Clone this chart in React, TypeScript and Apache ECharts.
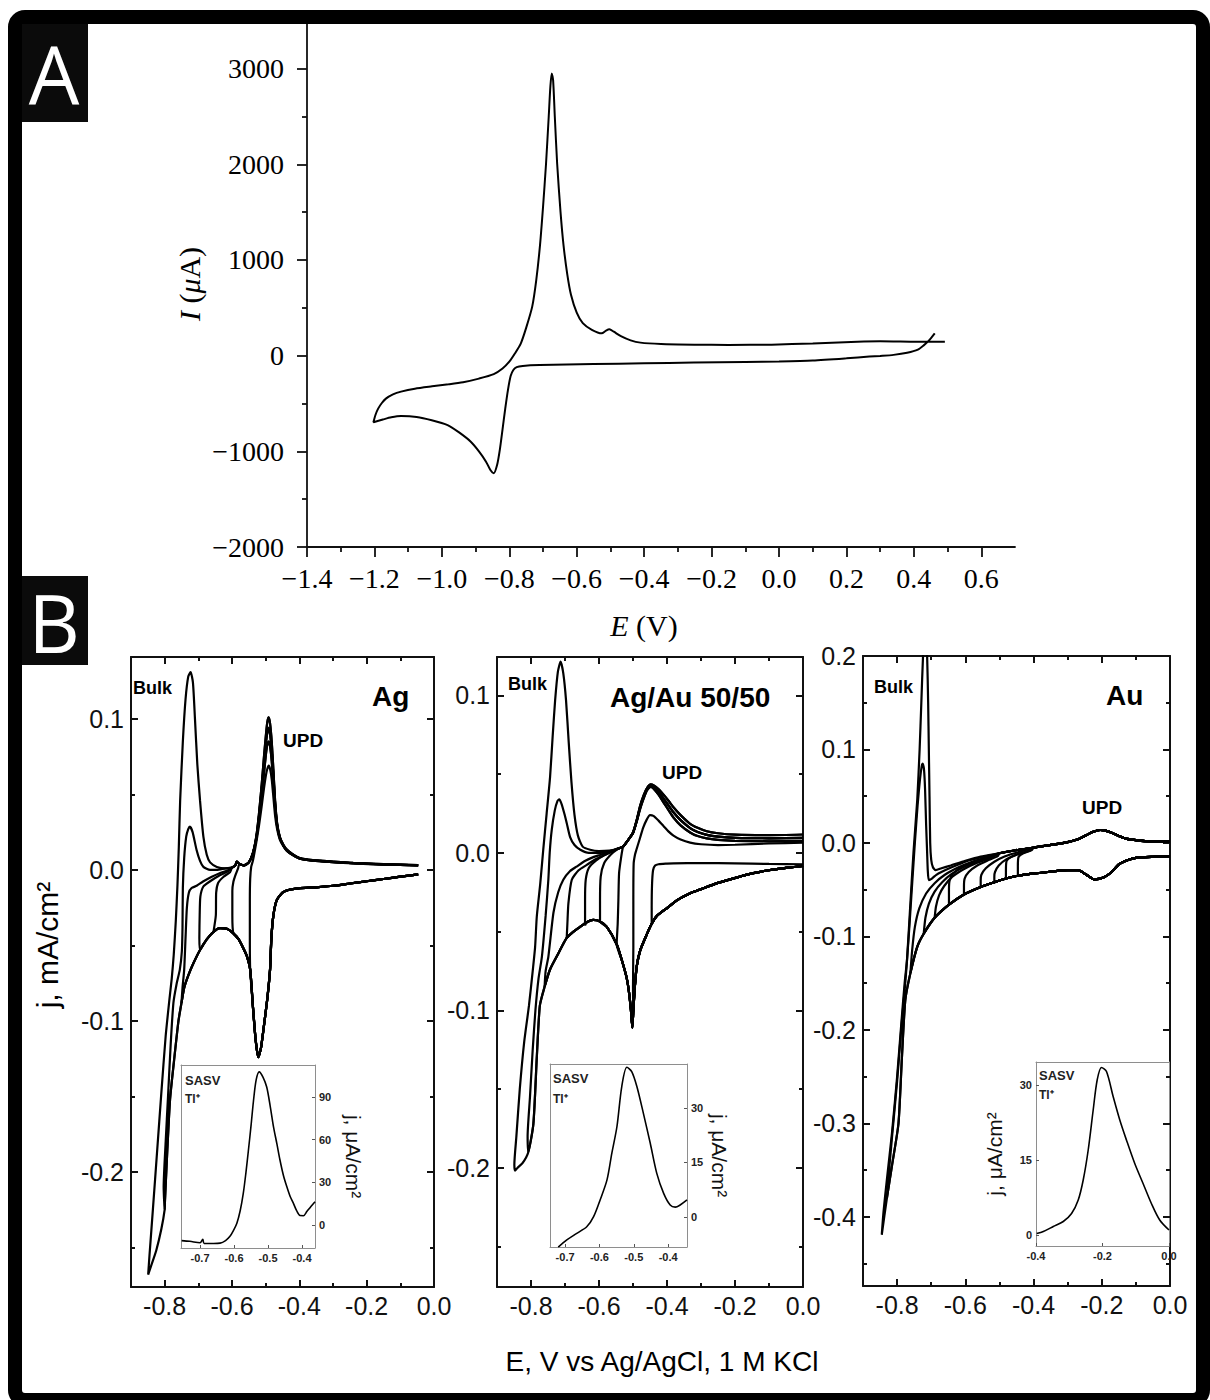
import React, { useEffect, useRef } from "react";
import * as echarts from "echarts";

const SERIF = "'Liberation Serif', 'Times New Roman', serif";
const SANS = "'Liberation Sans', Arial, Helvetica, sans-serif";

// ================= Panel A : CV, E (V) vs I (uA) =================
const cvA: number[][] = [
  [0.462, 233], [0.445, 160], [0.43, 110], [0.412, 63], [0.38, 30], [0.34, 8], [0.3, -3], [0.268, -10],
  [0.2, -28], [0.1, -50], [0.0, -60], [-0.1, -66], [-0.253, -73], [-0.4, -80], [-0.55, -88], [-0.71, -99],
  [-0.76, -108], [-0.778, -120], [-0.788, -150], [-0.796, -214], [-0.804, -360], [-0.812, -554], [-0.82, -770],
  [-0.828, -982], [-0.836, -1140], [-0.846, -1228], [-0.856, -1195], [-0.869, -1108], [-0.89, -1000],
  [-0.915, -897], [-0.95, -800], [-0.983, -726], [-1.03, -675], [-1.075, -641], [-1.121, -632], [-1.15, -645],
  [-1.175, -668], [-1.203, -696],
  [-1.197, -620], [-1.189, -554], [-1.178, -495], [-1.166, -449], [-1.145, -405], [-1.121, -376], [-1.08, -345],
  [-1.029, -321], [-0.98, -300], [-0.937, -278], [-0.89, -240], [-0.846, -193], [-0.82, -135], [-0.8, -63],
  [-0.783, 25], [-0.766, 126], [-0.75, 290], [-0.732, 512], [-0.72, 790], [-0.709, 1150], [-0.7, 1550],
  [-0.691, 2006], [-0.683, 2500], [-0.678, 2820], [-0.674, 2950], [-0.67, 2880], [-0.665, 2500], [-0.658, 2006],
  [-0.648, 1500], [-0.639, 1150], [-0.628, 850], [-0.617, 637], [-0.6, 450], [-0.582, 340], [-0.555, 270],
  [-0.526, 233], [-0.513, 262], [-0.503, 276], [-0.49, 250], [-0.469, 204], [-0.44, 160], [-0.411, 136],
  [-0.35, 122], [-0.251, 115], [-0.15, 112], [-0.022, 115], [0.1, 128], [0.252, 148], [0.3, 150], [0.389, 146],
  [0.45, 144], [0.492, 144],
];
const aXMajor = [-1.4, -1.2, -1.0, -0.8, -0.6, -0.4, -0.2, 0.0, 0.2, 0.4, 0.6];
const aXMinor = [-1.3, -1.1, -0.9, -0.7, -0.5, -0.3, -0.1, 0.1, 0.3, 0.5];
const aYMajor = [-2000, -1000, 0, 1000, 2000, 3000];
const aYMinor = [-1500, -500, 500, 1500, 2500];

// ================= Panel B common ticks =================
const bXMajor = [-0.8, -0.6, -0.4, -0.2, 0.0];
const bXMinor = [-0.7, -0.5, -0.3, -0.1];
const agYMajor = [-0.2, -0.1, 0.0, 0.1];
const agYMinor = [-0.25, -0.15, -0.05, 0.05];
const auagYMajor = [-0.2, -0.1, 0.0, 0.1];
const auagYMinor = [-0.25, -0.15, -0.05, 0.05];
const auYMajor = [-0.4, -0.3, -0.2, -0.1, 0.0, 0.1, 0.2];
const auYMinor = [-0.45, -0.35, -0.25, -0.15, -0.05, 0.05, 0.15];

// ================= Ag panel =================
const agCathodic: number[][] = [
  [-0.047, -0.003], [-0.1, -0.0045], [-0.15, -0.006], [-0.2, -0.0075], [-0.25, -0.009], [-0.3, -0.0105],
  [-0.35, -0.0115], [-0.398, -0.012], [-0.427, -0.013], [-0.45, -0.015], [-0.467, -0.02], [-0.477, -0.03],
  [-0.483, -0.045], [-0.487, -0.066], [-0.495, -0.085], [-0.505, -0.103], [-0.514, -0.118], [-0.522, -0.124],
  [-0.53, -0.112], [-0.538, -0.09], [-0.546, -0.066], [-0.556, -0.057], [-0.566, -0.052], [-0.58, -0.046],
  [-0.596, -0.042], [-0.615, -0.039], [-0.636, -0.0386], [-0.655, -0.041], [-0.675, -0.046], [-0.695, -0.053],
  [-0.715, -0.062], [-0.73, -0.07], [-0.742, -0.078], [-0.75, -0.088], [-0.759, -0.1], [-0.772, -0.126],
  [-0.784, -0.152], [-0.792, -0.185], [-0.799, -0.2185], [-0.8, -0.225],
];
const agTip1: number[][] = [[-0.81, -0.238], [-0.825, -0.252], [-0.84, -0.262], [-0.849, -0.268]];
const agRise1: number[][] = [
  [-0.845, -0.255], [-0.835, -0.225], [-0.822, -0.185], [-0.81, -0.148], [-0.797, -0.11], [-0.786, -0.086],
  [-0.779, -0.072], [-0.773, -0.056], [-0.767, -0.034], [-0.762, -0.01], [-0.758, 0.015], [-0.754, 0.046],
  [-0.746, 0.085], [-0.738, 0.113], [-0.73, 0.128], [-0.723, 0.131], [-0.716, 0.124], [-0.71, 0.1],
  [-0.703, 0.07], [-0.695, 0.046], [-0.685, 0.022], [-0.675, 0.01], [-0.665, 0.005], [-0.645, 0.002],
  [-0.62, 0.001], [-0.6, 0.0015],
];
const agRise2: number[][] = [
  [-0.803, -0.21], [-0.797, -0.18], [-0.79, -0.15], [-0.782, -0.115], [-0.774, -0.088], [-0.765, -0.076],
  [-0.755, -0.066], [-0.749, -0.054], [-0.747, -0.038], [-0.746, -0.012], [-0.742, 0.008], [-0.736, 0.022],
  [-0.73, 0.027], [-0.725, 0.0287], [-0.717, 0.025], [-0.705, 0.013], [-0.695, 0.006], [-0.685, 0.002],
  [-0.665, 0.0], [-0.645, 0.0], [-0.62, 0.001], [-0.6, 0.0015],
];
const agRiseA: number[][] = [
  [-0.747, -0.078], [-0.742, -0.066], [-0.738, -0.045], [-0.734, -0.025], [-0.728, -0.015], [-0.72, -0.012],
  [-0.705, -0.0105], [-0.686, -0.0077], [-0.66, -0.0045], [-0.635, -0.002], [-0.61, 0.0], [-0.6, 0.0015],
];
const agRiseB: number[][] = [
  [-0.697, -0.045], [-0.696, -0.03], [-0.694, -0.0177], [-0.685, -0.011], [-0.665, -0.0075], [-0.64, -0.004],
  [-0.616, -0.0015], [-0.6, 0.0015],
];
const agRiseC: number[][] = [
  [-0.648, -0.03], [-0.647, -0.015], [-0.641, -0.0085], [-0.625, -0.0045], [-0.606, -0.0015], [-0.6, 0.0015],
];
const agRiseD: number[][] = [[-0.599, -0.03], [-0.599, -0.014], [-0.596, -0.008], [-0.589, -0.003], [-0.582, 0.001]];
const agRiseE: number[][] = [[-0.547, -0.045], [-0.547, -0.02], [-0.546, -0.006], [-0.543, 0.002], [-0.538, 0.006]];
const tailAg1: number[][] = [
  [-0.59, 0.003], [-0.586, 0.0055], [-0.578, 0.004], [-0.565, 0.003], [-0.55, 0.005], [-0.538, 0.011],
  [-0.528, 0.022], [-0.52, 0.037], [-0.512, 0.056], [-0.505, 0.075], [-0.499, 0.09], [-0.495, 0.098],
  [-0.491, 0.101], [-0.487, 0.097], [-0.482, 0.085], [-0.477, 0.066], [-0.472, 0.046], [-0.466, 0.031],
  [-0.458, 0.022], [-0.447, 0.0165], [-0.437, 0.0135], [-0.42, 0.0105], [-0.398, 0.0078], [-0.36, 0.0065],
  [-0.3, 0.0055], [-0.24, 0.0046], [-0.15, 0.0038], [-0.047, 0.0032],
];
const tailAg2: number[][] = [
  [-0.59, 0.003], [-0.586, 0.0055], [-0.578, 0.004], [-0.565, 0.003], [-0.55, 0.005], [-0.538, 0.011],
  [-0.528, 0.021], [-0.52, 0.035], [-0.512, 0.053], [-0.505, 0.07], [-0.499, 0.084], [-0.495, 0.091],
  [-0.491, 0.094], [-0.487, 0.09], [-0.482, 0.079], [-0.477, 0.062], [-0.472, 0.044], [-0.466, 0.03],
  [-0.458, 0.0215], [-0.447, 0.016], [-0.437, 0.013], [-0.42, 0.0102], [-0.398, 0.0076], [-0.36, 0.0063],
  [-0.3, 0.0053], [-0.24, 0.0045], [-0.15, 0.0037], [-0.047, 0.0031],
];
const tailAg3: number[][] = [
  [-0.59, 0.003], [-0.586, 0.0055], [-0.578, 0.004], [-0.565, 0.003], [-0.55, 0.005], [-0.538, 0.011],
  [-0.528, 0.02], [-0.52, 0.033], [-0.512, 0.049], [-0.505, 0.064], [-0.499, 0.077], [-0.495, 0.083],
  [-0.491, 0.085], [-0.487, 0.082], [-0.482, 0.072], [-0.477, 0.057], [-0.472, 0.041], [-0.466, 0.029],
  [-0.458, 0.021], [-0.447, 0.0158], [-0.437, 0.0128], [-0.42, 0.01], [-0.398, 0.0075], [-0.36, 0.0062],
  [-0.3, 0.0052], [-0.24, 0.0044], [-0.15, 0.0036], [-0.047, 0.003],
];
const tailAg4: number[][] = [
  [-0.59, 0.003], [-0.586, 0.0055], [-0.578, 0.004], [-0.565, 0.003], [-0.55, 0.005], [-0.538, 0.01],
  [-0.528, 0.018], [-0.52, 0.029], [-0.512, 0.042], [-0.505, 0.054], [-0.499, 0.063], [-0.495, 0.067],
  [-0.491, 0.069], [-0.487, 0.067], [-0.482, 0.06], [-0.477, 0.048], [-0.472, 0.036], [-0.466, 0.027],
  [-0.458, 0.02], [-0.447, 0.0155], [-0.437, 0.0125], [-0.42, 0.0098], [-0.398, 0.0074], [-0.36, 0.0061],
  [-0.3, 0.0051], [-0.24, 0.0043], [-0.15, 0.0035], [-0.047, 0.003],
];

// ================= Ag/Au 50/50 panel =================
const auagCathodic: number[][] = [
  [0.0, -0.0083], [-0.05, -0.0095], [-0.1, -0.011], [-0.15, -0.013], [-0.185, -0.015], [-0.25, -0.019],
  [-0.3, -0.023], [-0.332, -0.0256], [-0.37, -0.03], [-0.4, -0.035], [-0.43, -0.04], [-0.445, -0.045],
  [-0.46, -0.052], [-0.479, -0.062], [-0.489, -0.072], [-0.495, -0.086], [-0.499, -0.1], [-0.502, -0.111],
  [-0.506, -0.1], [-0.512, -0.088], [-0.519, -0.079], [-0.533, -0.068], [-0.548, -0.058], [-0.577, -0.047],
  [-0.597, -0.0435], [-0.617, -0.0425], [-0.636, -0.044], [-0.656, -0.047], [-0.675, -0.05], [-0.695, -0.054],
  [-0.72, -0.064], [-0.744, -0.074], [-0.76, -0.085], [-0.774, -0.097], [-0.783, -0.13], [-0.793, -0.172],
  [-0.808, -0.19], [-0.825, -0.197], [-0.84, -0.2], [-0.847, -0.2017],
];
const auagRise1: number[][] = [
  [-0.849, -0.198], [-0.843, -0.18], [-0.833, -0.15], [-0.82, -0.12], [-0.806, -0.097], [-0.795, -0.075],
  [-0.788, -0.06], [-0.783, -0.0405], [-0.773, -0.02], [-0.764, 0.002], [-0.754, 0.025], [-0.744, 0.048],
  [-0.736, 0.075], [-0.729, 0.097], [-0.721, 0.115], [-0.713, 0.1215], [-0.705, 0.114], [-0.697, 0.097],
  [-0.689, 0.07], [-0.681, 0.045], [-0.672, 0.024], [-0.662, 0.011], [-0.648, 0.004], [-0.626, 0.002],
  [-0.6, 0.0012], [-0.57, 0.0015], [-0.548, 0.0025],
];
const auagRise2: number[][] = [
  [-0.81, -0.18], [-0.803, -0.155], [-0.795, -0.125], [-0.787, -0.1], [-0.778, -0.08], [-0.768, -0.066],
  [-0.757, -0.04], [-0.749, -0.017], [-0.745, 0.0], [-0.739, 0.0146], [-0.73, 0.027], [-0.722, 0.033],
  [-0.717, 0.034], [-0.71, 0.031], [-0.702, 0.025], [-0.695, 0.019], [-0.685, 0.01], [-0.672, 0.005],
  [-0.655, 0.002], [-0.63, 0.0], [-0.6, 0.0], [-0.57, 0.001], [-0.548, 0.0025],
];
const auagRiseA: number[][] = [
  [-0.757, -0.075], [-0.749, -0.066], [-0.734, -0.038], [-0.72, -0.025], [-0.705, -0.017], [-0.685, -0.0115],
  [-0.666, -0.0087], [-0.64, -0.005], [-0.615, -0.0025], [-0.597, -0.0013], [-0.57, 0.0005], [-0.548, 0.0025],
];
const auagRiseB: number[][] = [
  [-0.693, -0.045], [-0.69, -0.032], [-0.68, -0.017], [-0.66, -0.011], [-0.636, -0.0076], [-0.61, -0.004],
  [-0.58, -0.001], [-0.548, 0.0025],
];
const auagRiseC: number[][] = [
  [-0.641, -0.046], [-0.641, -0.03], [-0.639, -0.017], [-0.63, -0.0095], [-0.61, -0.005], [-0.585, -0.0015],
  [-0.56, 0.001], [-0.54, 0.003],
];
const auagRiseD: number[][] = [[-0.597, -0.03], [-0.595, -0.015], [-0.585, -0.0065], [-0.565, -0.001], [-0.545, 0.0025]];
const auagRiseE: number[][] = [[-0.545, -0.045], [-0.543, -0.03], [-0.541, -0.013], [-0.535, -0.003], [-0.529, 0.004]];
const auagRiseF: number[][] = [[-0.5, -0.085], [-0.499, -0.06], [-0.499, -0.03], [-0.498, -0.0066], [-0.494, -0.001]];
const auagRiseG: number[][] = [
  [-0.445, -0.035], [-0.444, -0.02], [-0.441, -0.011], [-0.435, -0.008], [-0.425, -0.0072], [-0.4, -0.0068],
  [-0.381, -0.0066], [-0.3, -0.0065], [-0.2, -0.0066], [-0.1, -0.007], [0.0, -0.0072],
];
const tailB1: number[][] = [
  [-0.529, 0.004], [-0.515, 0.008], [-0.5, 0.013], [-0.489, 0.021], [-0.479, 0.03], [-0.468, 0.037],
  [-0.458, 0.0415], [-0.448, 0.0435], [-0.44, 0.043], [-0.425, 0.0405], [-0.41, 0.037], [-0.395, 0.033],
  [-0.381, 0.029], [-0.36, 0.024], [-0.332, 0.0185], [-0.31, 0.016], [-0.283, 0.0138], [-0.25, 0.0125],
  [-0.2, 0.0116], [-0.1, 0.0113], [0.0, 0.0117],
];
const tailB1b: number[][] = [
  [-0.529, 0.004], [-0.515, 0.008], [-0.5, 0.0128], [-0.489, 0.0205], [-0.479, 0.029], [-0.468, 0.036],
  [-0.458, 0.041], [-0.448, 0.043], [-0.44, 0.042], [-0.425, 0.039], [-0.41, 0.0345], [-0.395, 0.03],
  [-0.381, 0.0258], [-0.36, 0.0208], [-0.332, 0.0158], [-0.31, 0.0133], [-0.283, 0.0115], [-0.25, 0.0104],
  [-0.2, 0.0096], [-0.1, 0.0093], [0.0, 0.0096],
];
const tailB2: number[][] = [
  [-0.529, 0.004], [-0.515, 0.008], [-0.5, 0.0125], [-0.489, 0.02], [-0.479, 0.028], [-0.468, 0.035],
  [-0.458, 0.04], [-0.448, 0.042], [-0.44, 0.041], [-0.425, 0.037], [-0.41, 0.032], [-0.395, 0.027],
  [-0.381, 0.0225], [-0.36, 0.0175], [-0.332, 0.013], [-0.31, 0.0107], [-0.283, 0.0092], [-0.25, 0.0083],
  [-0.2, 0.0077], [-0.1, 0.0074], [0.0, 0.0076],
];
const tailB3: number[][] = [
  [-0.49, 0.002], [-0.48, 0.009], [-0.47, 0.016], [-0.46, 0.021], [-0.45, 0.024], [-0.44, 0.0235],
  [-0.425, 0.0205], [-0.41, 0.017], [-0.395, 0.0135], [-0.381, 0.011], [-0.36, 0.0085], [-0.332, 0.0065],
  [-0.3, 0.0055], [-0.25, 0.005], [-0.2, 0.0052], [-0.1, 0.006], [0.0, 0.0065],
];

// ================= Au panel =================
const auCathodic: number[][] = [
  [0.0, -0.014], [-0.05, -0.0148], [-0.1, -0.016], [-0.121, -0.018], [-0.15, -0.023], [-0.171, -0.031],
  [-0.195, -0.037], [-0.222, -0.039], [-0.245, -0.034], [-0.269, -0.029], [-0.3, -0.029], [-0.358, -0.031],
  [-0.41, -0.033], [-0.446, -0.035], [-0.481, -0.038], [-0.515, -0.042], [-0.555, -0.047], [-0.604, -0.055],
  [-0.648, -0.066], [-0.69, -0.08], [-0.722, -0.097], [-0.741, -0.111], [-0.761, -0.139], [-0.776, -0.168],
  [-0.786, -0.23], [-0.796, -0.3], [-0.815, -0.345], [-0.83, -0.38], [-0.845, -0.419],
];
const auRise1: number[][] = [
  [-0.84, -0.395], [-0.83, -0.36], [-0.815, -0.31], [-0.8, -0.25], [-0.787, -0.19], [-0.778, -0.15],
  [-0.771, -0.125], [-0.762, -0.07], [-0.752, -0.01], [-0.741, 0.046], [-0.734, 0.1], [-0.729, 0.15],
  [-0.724, 0.2], [-0.717, 0.24], [-0.712, 0.2], [-0.709, 0.15], [-0.707, 0.1], [-0.705, 0.05], [-0.703, 0.0],
  [-0.7, -0.018], [-0.695, -0.026], [-0.687, -0.029], [-0.67, -0.027],
];
const auJoin: number[][] = [[-0.643, -0.024], [-0.6, -0.019], [-0.555, -0.0145]];
const auRise2: number[][] = [
  [-0.826, -0.36], [-0.815, -0.315], [-0.8, -0.255], [-0.787, -0.195], [-0.775, -0.145], [-0.766, -0.1],
  [-0.757, -0.05], [-0.748, 0.0], [-0.74, 0.04], [-0.733, 0.068], [-0.728, 0.082], [-0.725, 0.085],
  [-0.721, 0.078], [-0.718, 0.057], [-0.715, 0.02], [-0.712, -0.01], [-0.71, -0.03], [-0.707, -0.0396],
  [-0.698, -0.038], [-0.685, -0.034], [-0.67, -0.031], [-0.64, -0.026], [-0.6, -0.02], [-0.555, -0.0155],
];
const auRiseA: number[][] = [
  [-0.756, -0.115], [-0.748, -0.09], [-0.735, -0.07], [-0.715, -0.054], [-0.69, -0.043], [-0.66, -0.034],
  [-0.62, -0.026], [-0.58, -0.02], [-0.54, -0.0155],
];
const auRiseB: number[][] = [
  [-0.717, -0.08], [-0.707, -0.065], [-0.69, -0.052], [-0.668, -0.042], [-0.64, -0.033], [-0.6, -0.025],
  [-0.56, -0.019], [-0.52, -0.0145],
];
const auRiseC: number[][] = [
  [-0.686, -0.068], [-0.677, -0.056], [-0.662, -0.046], [-0.638, -0.036], [-0.605, -0.028], [-0.565, -0.021],
  [-0.525, -0.016],
];
const auRiseD: number[][] = [[-0.648, -0.05], [-0.646, -0.04], [-0.636, -0.033], [-0.612, -0.026], [-0.575, -0.02], [-0.535, -0.016]];
const auRiseE: number[][] = [[-0.604, -0.046], [-0.602, -0.038], [-0.59, -0.031], [-0.565, -0.024], [-0.53, -0.018], [-0.505, -0.014]];
const auRiseF: number[][] = [[-0.555, -0.04], [-0.553, -0.034], [-0.54, -0.027], [-0.515, -0.02], [-0.485, -0.0145], [-0.456, -0.011]];
const auRiseG: number[][] = [[-0.515, -0.036], [-0.513, -0.031], [-0.502, -0.024], [-0.478, -0.017], [-0.45, -0.0125], [-0.42, -0.009]];
const auRiseH: number[][] = [[-0.481, -0.03], [-0.479, -0.019], [-0.466, -0.015], [-0.44, -0.011], [-0.41, -0.008]];
const auRiseI: number[][] = [[-0.446, -0.025], [-0.444, -0.015], [-0.43, -0.011], [-0.405, -0.0075]];
const auTail: number[][] = [
  [-0.5, -0.011], [-0.456, -0.008], [-0.4, -0.005], [-0.358, -0.0025], [-0.3, 0.001], [-0.27, 0.004],
  [-0.245, 0.0085], [-0.225, 0.012], [-0.205, 0.0139], [-0.19, 0.0133], [-0.171, 0.011], [-0.15, 0.0075],
  [-0.132, 0.005], [-0.1, 0.003], [-0.073, 0.002], [0.0, 0.0015],
];

// ================= Insets (SASV of Tl+) =================
const inset1: number[][] = [
  [-0.754, -11], [-0.73, -11.5], [-0.7, -12.5], [-0.692, -10], [-0.688, -13], [-0.66, -13], [-0.641, -12.8],
  [-0.625, -11], [-0.612, -8], [-0.602, -4], [-0.592, 1], [-0.582, 10], [-0.573, 22], [-0.565, 37], [-0.558, 52],
  [-0.55, 70], [-0.543, 87], [-0.535, 102], [-0.526, 107.7], [-0.515, 104], [-0.504, 97], [-0.494, 84],
  [-0.484, 69], [-0.474, 57], [-0.465, 45.7], [-0.455, 35], [-0.445, 27], [-0.435, 20], [-0.426, 15.5],
  [-0.416, 10], [-0.406, 6.6], [-0.396, 6.5], [-0.386, 9.4], [-0.374, 13], [-0.362, 16.4],
];
const inset2: number[][] = [
  [-0.72, -8.3], [-0.695, -6.3], [-0.666, -4.5], [-0.637, -2.7], [-0.617, 0.1], [-0.598, 4.7], [-0.578, 10.2],
  [-0.564, 17.5], [-0.549, 24.9], [-0.535, 35.9], [-0.52, 41.2], [-0.506, 40], [-0.491, 35.9], [-0.472, 28.5],
  [-0.452, 20.3], [-0.433, 12], [-0.413, 6.5], [-0.394, 3.3], [-0.379, 2.7], [-0.365, 3.3], [-0.345, 4.7],
];
const inset3: number[][] = [
  [-0.398, 0.3], [-0.378, 0.7], [-0.348, 1.7], [-0.318, 2.7], [-0.293, 4.3], [-0.273, 7], [-0.258, 11],
  [-0.243, 17], [-0.228, 25], [-0.216, 31], [-0.203, 33.5], [-0.188, 32.7], [-0.168, 27.7], [-0.148, 23],
  [-0.128, 19], [-0.103, 14.3], [-0.078, 10.3], [-0.053, 6.3], [-0.028, 3], [0.0, 1],
];
const ins1X = [-0.7, -0.6, -0.5, -0.4];
const ins1Y = [0, 30, 60, 90];
const ins2X = [-0.7, -0.6, -0.5, -0.4];
const ins2Y = [0, 15, 30];
const ins3X = [-0.4, -0.2, 0.0];
const ins3Y = [0, 15, 30];

// ================= helpers =================
const f1 = (v: number) => v.toFixed(1);
const fMinus = (d: number) => (v: number) => (v < 0 ? "\u2212" + Math.abs(v).toFixed(d) : v.toFixed(d));

function mkAxis(s: any) {
  return {
    type: "value",
    gridIndex: s.grid,
    min: s.min,
    max: s.max,
    position: s.pos,
    axisLine: {
      show: !!s.line,
      onZero: false,
      lineStyle: { color: s.lineColor || "#111", width: s.lineWidth || 1.8 },
    },
    axisTick: s.ticks
      ? {
          show: true,
          inside: s.tickInside !== false,
          length: s.tickLen || 6,
          customValues: s.ticks,
          lineStyle: { color: s.tickColor || s.lineColor || "#111", width: s.tickWidth || s.lineWidth || 1.8 },
        }
      : { show: false },
    axisLabel: s.labels
      ? { show: true, customValues: s.labels, formatter: s.labelFmt, ...s.labelStyle }
      : { show: false },
    splitLine: { show: false },
    minorTick: { show: false },
    name: s.name,
    nameLocation: "middle",
    nameGap: s.nameGap,
    nameRotate: s.nameRotate,
    nameTextStyle: s.nameStyle,
  };
}

function buildOption() {
  const xAxes: any[] = [];
  const yAxes: any[] = [];
  const addX = (a: any) => { xAxes.push(a); return xAxes.length - 1; };
  const addY = (a: any) => { yAxes.push(a); return yAxes.length - 1; };

  const grids = [
    { left: 307, top: 20.75, width: 708, height: 526.25 },
    { left: 131, top: 657, width: 303, height: 630 },
    { left: 497, top: 657, width: 306, height: 630 },
    { left: 863, top: 656, width: 307, height: 630 },
    { left: 181, top: 1065, width: 134, height: 183 },
    { left: 550, top: 1064, width: 137, height: 183 },
    { left: 1036, top: 1062, width: 133, height: 184 },
  ].map((g) => ({ ...g, containLabel: false, outerBoundsMode: "none", show: false }));

  // ---- Panel A axes
  const aLab = { fontSize: 28, fontFamily: SERIF, color: "#000" };
  const axA = addX(mkAxis({ grid: 0, min: -1.4, max: 0.7, pos: "bottom", line: true, ticks: aXMajor, tickLen: 10, tickInside: false, labels: aXMajor, labelFmt: fMinus(1), labelStyle: { ...aLab, margin: 17 } }));
  addX(mkAxis({ grid: 0, min: -1.4, max: 0.7, pos: "bottom", ticks: aXMinor, tickLen: 5, tickInside: false }));
  const ayA = addY(mkAxis({ grid: 0, min: -2000, max: 3500, pos: "left", line: true, ticks: aYMajor, tickLen: 10, tickInside: false, labels: aYMajor, labelFmt: fMinus(0), labelStyle: { ...aLab, margin: 23 } }));
  addY(mkAxis({ grid: 0, min: -2000, max: 3500, pos: "left", ticks: aYMinor, tickLen: 5, tickInside: false }));

  // ---- Panel B framed axes
  const bLab = { fontSize: 25, fontFamily: SANS, color: "#111" };
  function box(grid: number, yr: number[], yMaj: number[], yMin: number[]) {
    const xr = [-0.9, 0.0];
    const xi = addX(mkAxis({ grid, min: xr[0], max: xr[1], pos: "bottom", line: true, lineWidth: 2, ticks: bXMajor, tickLen: 7, labels: bXMajor, labelFmt: f1, labelStyle: { ...bLab, margin: 6 } }));
    addX(mkAxis({ grid, min: xr[0], max: xr[1], pos: "bottom", ticks: bXMinor, tickLen: 4, lineWidth: 2 }));
    addX(mkAxis({ grid, min: xr[0], max: xr[1], pos: "top", line: true, lineWidth: 2, ticks: bXMajor, tickLen: 7 }));
    addX(mkAxis({ grid, min: xr[0], max: xr[1], pos: "top", ticks: bXMinor, tickLen: 4, lineWidth: 2 }));
    const yi = addY(mkAxis({ grid, min: yr[0], max: yr[1], pos: "left", line: true, lineWidth: 2, ticks: yMaj, tickLen: 7, labels: yMaj, labelFmt: f1, labelStyle: { ...bLab, margin: 7 } }));
    addY(mkAxis({ grid, min: yr[0], max: yr[1], pos: "left", ticks: yMin, tickLen: 4, lineWidth: 2 }));
    addY(mkAxis({ grid, min: yr[0], max: yr[1], pos: "right", line: true, lineWidth: 2, ticks: yMaj, tickLen: 7 }));
    addY(mkAxis({ grid, min: yr[0], max: yr[1], pos: "right", ticks: yMin, tickLen: 4, lineWidth: 2 }));
    return [xi, yi];
  }
  const [x1, y1] = box(1, [-0.2762, 0.141], agYMajor, agYMinor);
  const [x2, y2] = box(2, [-0.2756, 0.1244], auagYMajor, auagYMinor);
  const [x3, y3] = box(3, [-0.4738, 0.2], auYMajor, auYMinor);

  // ---- Inset axes
  const gray = "#8e8e8e";
  const iLab = { fontSize: 11, fontWeight: "bold", fontFamily: SANS, color: "#222", margin: 4 };
  const iName = { fontSize: 21, fontFamily: SANS, color: "#111" };
  function inset(grid: number, xr: number[], yr: number[], xT: number[], yT: number[], yPos: string, gap: number, rot: number) {
    const xi = addX(mkAxis({ grid, min: xr[0], max: xr[1], pos: "bottom", line: true, lineColor: gray, lineWidth: 1, ticks: xT, tickLen: 3, tickColor: "#555", labels: xT, labelFmt: f1, labelStyle: iLab }));
    addX(mkAxis({ grid, min: xr[0], max: xr[1], pos: "top", line: true, lineColor: gray, lineWidth: 1 }));
    const yi = addY(mkAxis({ grid, min: yr[0], max: yr[1], pos: yPos, line: true, lineColor: gray, lineWidth: 1, ticks: yT, tickLen: 3, tickColor: "#555", labels: yT, labelFmt: (v: number) => String(v), labelStyle: iLab, name: "j, \u03bcA/cm\u00b2", nameGap: gap, nameRotate: rot, nameStyle: iName }));
    addY(mkAxis({ grid, min: yr[0], max: yr[1], pos: yPos === "left" ? "right" : "left", line: true, lineColor: gray, lineWidth: 1 }));
    return [xi, yi];
  }
  const [ix1, iy1] = inset(4, [-0.756, -0.362], [-16.2, 112.5], ins1X, ins1Y, "right", 28, -90);
  const [ix2, iy2] = inset(5, [-0.744, -0.345], [-8.26, 42.1], ins2X, ins2Y, "right", 22, -90);
  const [ix3, iy3] = inset(6, [-0.4, 0.0], [-2.2, 34.6], ins3X, ins3Y, "left", 31, 90);

  const line = (data: number[][], xi: number, yi: number, w = 2.2, smooth = 0.2) => ({
    type: "line", xAxisIndex: xi, yAxisIndex: yi, data, showSymbol: false, symbol: "none", smooth,
    lineStyle: { color: "#000", width: w }, itemStyle: { color: "#000" }, silent: true, clip: true,
    emphasis: { disabled: true },
  });

  const agC = (rev: number) => agCathodic.filter((p) => p[0] >= rev);
  const aaC = (rev: number) => auagCathodic.filter((p) => p[0] >= rev);
  const auC = (rev: number) => auCathodic.filter((p) => p[0] >= rev);

  const agCycles = [
    [...agCathodic, ...agTip1, ...agRise1, ...tailAg1],
    [...agCathodic, ...agRise2, ...tailAg1],
    [...agC(-0.75), ...agRiseA, ...tailAg2],
    [...agC(-0.695), ...agRiseB, ...tailAg2],
    [...agC(-0.655), ...agRiseC, ...tailAg3],
    [...agC(-0.596), ...agRiseD, ...tailAg3.filter((p) => p[0] > -0.582)],
    [...agC(-0.546), ...agRiseE, ...tailAg4.filter((p) => p[0] > -0.538)],
  ];
  const auagCycles = [
    [...auagCathodic, ...auagRise1, ...tailB1],
    [...aaC(-0.808), ...auagRise2, ...tailB1b],
    [...aaC(-0.76), ...auagRiseA, ...tailB2],
    [...aaC(-0.695), ...auagRiseB, ...tailB1],
    [...aaC(-0.641), ...auagRiseC, ...tailB1b],
    [...aaC(-0.597), ...auagRiseD, ...tailB2],
    [...aaC(-0.548), ...auagRiseE, ...tailB1b],
    [...aaC(-0.499), ...auagRiseF, ...tailB3],
    [...aaC(-0.445), ...auagRiseG],
  ];
  const auCycles = [
    [...auCathodic, ...auRise1, ...auJoin, ...auTail],
    [...auC(-0.83), ...auRise2, ...auTail],
    [...auC(-0.761), ...auRiseA, ...auTail],
    [...auC(-0.722), ...auRiseB, ...auTail],
    [...auC(-0.69), ...auRiseC, ...auTail],
    [...auC(-0.648), ...auRiseD, ...auTail],
    [...auC(-0.604), ...auRiseE, ...auTail],
    [...auC(-0.555), ...auRiseF, ...auTail.filter((p) => p[0] > -0.456)],
    [...auC(-0.515), ...auRiseG, ...auTail.filter((p) => p[0] > -0.42)],
    [...auC(-0.481), ...auRiseH, ...auTail.filter((p) => p[0] > -0.41)],
    [...auC(-0.446), ...auRiseI, ...auTail.filter((p) => p[0] > -0.405)],
  ];

  const series: any[] = [
    line(cvA, axA, ayA, 2, 0.25),
    ...agCycles.map((d) => line(d, x1, y1)),
    ...auagCycles.map((d) => line(d, x2, y2)),
    ...auCycles.map((d) => line(d, x3, y3)),
    line(inset1, ix1, iy1, 1.6, 0.3),
    line(inset2, ix2, iy2, 1.6, 0.3),
    line(inset3, ix3, iy3, 1.6, 0.3),
  ];

  const txt = (text: string, x: number, y: number, size: number, opts: any = {}) => ({
    type: "text", x, y, z: 50, rotation: opts.rotation || 0,
    style: {
      text, fill: opts.fill || "#000", fontSize: size, fontFamily: opts.family || SANS,
      fontWeight: opts.weight || "normal", align: opts.align || "left", verticalAlign: "middle",
      rich: opts.rich,
    },
  });

  const LETTER = "'Open Sans', 'Noto Sans', sans-serif";
  const graphics: any[] = [
    { type: "rect", z: 100, shape: { x: 15, y: 17, width: 1188, height: 1383, r: 10 }, style: { fill: "none", stroke: "#000", lineWidth: 14 } },
    { type: "rect", z: 101, shape: { x: 22, y: 24, width: 66, height: 98 }, style: { fill: "#0b0b0b" } },
    { type: "text", z: 102, x: 54, y: 72, style: { text: "A", fill: "#fff", fontSize: 80, fontFamily: LETTER, align: "center", verticalAlign: "middle" } },
    { type: "rect", z: 101, shape: { x: 22, y: 576, width: 66, height: 89 }, style: { fill: "#0b0b0b" } },
    { type: "text", z: 102, x: 54, y: 621, style: { text: "B", fill: "#fff", fontSize: 80, fontFamily: LETTER, align: "center", verticalAlign: "middle" } },
    // Panel A titles
    txt("{i|I} ({i|\u03bc}A)", 189, 284, 30, { family: SERIF, align: "center", rotation: Math.PI / 2, rich: { i: { fontStyle: "italic", fontSize: 30, fontFamily: SERIF } } }),
    txt("{i|E} (V)", 644, 625, 30, { family: SERIF, align: "center", rich: { i: { fontStyle: "italic", fontSize: 30, fontFamily: SERIF } } }),
    // Panel B titles
    txt("j, mA/cm\u00b2", 47, 945, 30, { align: "center", rotation: Math.PI / 2 }),
    txt("E, V vs Ag/AgCl, 1 M KCl", 662, 1361, 28, { align: "center" }),
    // subplot labels
    txt("Bulk", 133, 688, 18, { weight: "bold" }),
    txt("Ag", 372, 696, 28, { weight: "bold" }),
    txt("UPD", 283, 740, 19, { weight: "bold" }),
    txt("Bulk", 508, 684, 18, { weight: "bold" }),
    txt("Ag/Au 50/50", 610, 697, 28, { weight: "bold" }),
    txt("UPD", 662, 772, 19, { weight: "bold" }),
    txt("Bulk", 874, 687, 18, { weight: "bold" }),
    txt("Au", 1106, 695, 28, { weight: "bold" }),
    txt("UPD", 1082, 807, 19, { weight: "bold" }),
    // inset labels
    txt("SASV", 185, 1080, 13, { weight: "bold", fill: "#222" }),
    txt("Tl\u207a", 185, 1099, 12, { weight: "bold", fill: "#222" }),
    txt("SASV", 553, 1078, 13, { weight: "bold", fill: "#222" }),
    txt("Tl\u207a", 553, 1099, 12, { weight: "bold", fill: "#222" }),
    txt("SASV", 1039, 1075, 13, { weight: "bold", fill: "#222" }),
    txt("Tl\u207a", 1039, 1095, 12, { weight: "bold", fill: "#222" }),
  ];

  return {
    animation: false,
    backgroundColor: "#fff",
    grid: grids,
    xAxis: xAxes,
    yAxis: yAxes,
    series,
    graphic: { elements: graphics },
  };
}

export default function App() {
  const ref = useRef<HTMLDivElement>(null);
  useEffect(() => {
    if (!ref.current) return;
    const chart = echarts.init(ref.current, undefined, { renderer: "svg" });
    chart.setOption(buildOption() as any);
    return () => chart.dispose();
  }, []);
  return (
    <div
      ref={ref}
      style={{ position: "absolute", left: 0, top: 0, width: 1210, height: 1400, background: "#fff" }}
    />
  );
}
